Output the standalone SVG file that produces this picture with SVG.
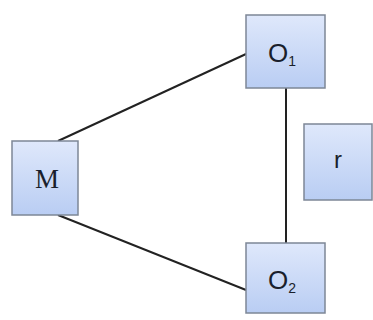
<svg xmlns="http://www.w3.org/2000/svg" width="373" height="320" viewBox="0 0 373 320">
<defs>
<linearGradient id="g" x1="0" y1="0" x2="0" y2="1">
<stop offset="0" stop-color="#dfe8fb"/>
<stop offset="1" stop-color="#b9cdf3"/>
</linearGradient>
<style>
.box{fill:url(#g);stroke:#7d8796;stroke-width:1.5}
.sans{font-family:"Liberation Sans",Arial,sans-serif;fill:#1a1f2c}
.serif{font-family:"Liberation Serif","Times New Roman",serif;fill:#1a1f2c}
.edge{stroke:#222;stroke-width:2;fill:none}
</style>
</defs>
<g id="connectors">
<line class="edge" x1="58" y1="141" x2="246" y2="54"/>
<line class="edge" x1="58" y1="215" x2="246" y2="290"/>
<line class="edge" x1="286" y1="88" x2="286" y2="243"/>
</g>
<g id="M">
<rect class="box" x="12" y="141" width="66" height="74"/>
<text class="serif" x="47" y="188" font-size="27" text-anchor="middle">M</text>
</g>
<g id="O1">
<rect class="box" x="246" y="15" width="79" height="73"/>
<text class="sans" x="282" y="62" font-size="26" text-anchor="middle">O<tspan font-size="14" dy="4">1</tspan></text>
</g>
<g id="O2">
<rect class="box" x="246" y="243" width="79" height="70"/>
<text class="sans" x="282" y="289" font-size="26" text-anchor="middle">O<tspan font-size="14" dy="4">2</tspan></text>
</g>
<g id="r">
<rect class="box" x="304" y="124" width="68" height="76"/>
<text class="sans" x="338" y="168" font-size="24" text-anchor="middle">r</text>
</g>
</svg>
